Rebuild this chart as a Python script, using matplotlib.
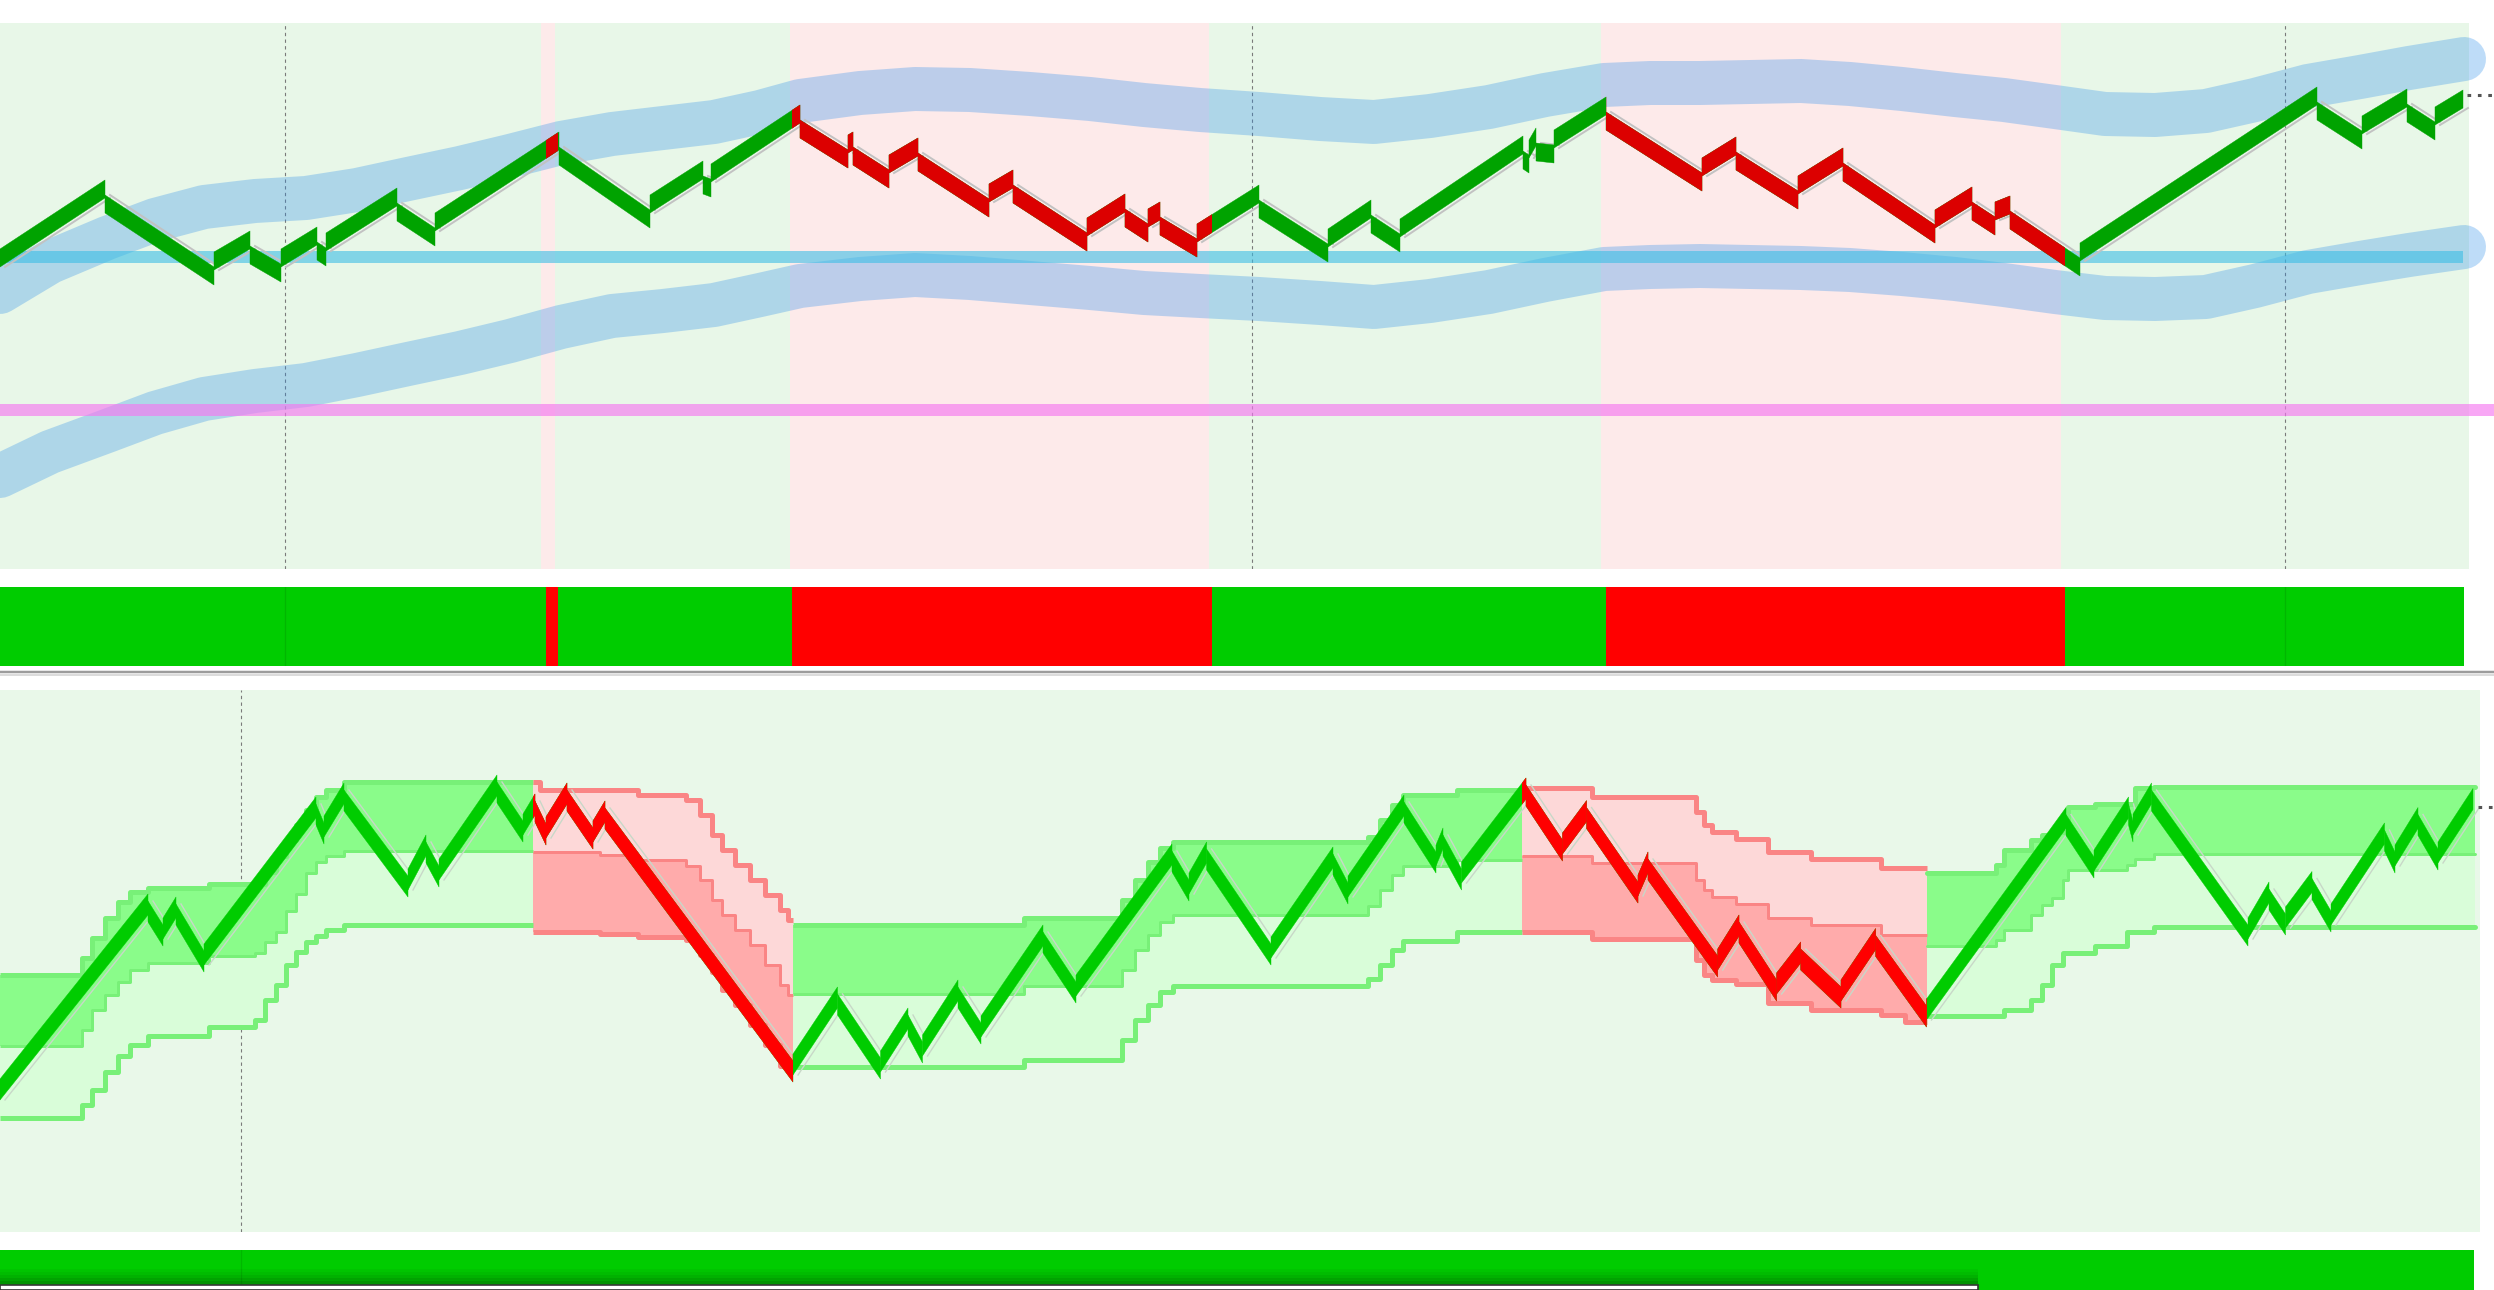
import matplotlib
matplotlib.use('Agg')
import matplotlib.pyplot as plt
from matplotlib.patches import Rectangle
from matplotlib.lines import Line2D
from matplotlib.collections import PolyCollection
import numpy as np

W, H, DPI = 2494, 1290, 100
PX = 72.0 / DPI  # points per pixel

# ---------------- top panel data (x = bar position, y = price scale, inverted) ----------
bg_edges = [0, 541, 555, 790, 1209, 1601, 2061, 2469]
bg_up = [True, False, True, False, True, False, True]

trend_edges = [0, 546, 558, 792, 1212, 1606, 2065, 2464]
trend_up = [True, False, True, False, True, False, True]

# top edge of the brick run at every reversal
renko_x = [0, 105, 214, 250, 281, 317, 326, 397, 435, 559, 650, 703, 711, 800, 848, 853,
           889, 918, 989, 1013, 1087, 1125, 1148, 1160, 1197, 1259, 1328, 1371, 1400, 1523,
           1529, 1536, 1554, 1606, 1702, 1736, 1798, 1843, 1935, 1972, 1995, 2010, 2080,
           2317, 2362, 2407, 2435, 2463]
renko_top = [249, 180, 267, 231, 264, 227, 248, 188, 228, 132, 210, 161, 179, 105, 150, 132,
             170, 138, 199, 170, 233, 194, 224, 202, 239, 185, 244, 200, 234, 136,
             155, 128, 145, 97, 173, 137, 191, 148, 225, 187, 217, 196, 258,
             87, 131, 89, 122, 90]
brick_h, brick_gap = 18, 15

band_x = [0, 50, 107, 155, 204, 255, 306, 357, 408, 460, 510, 561, 612, 663, 714, 760, 800,
          860, 915, 970, 1030, 1090, 1144, 1200, 1259, 1320, 1374, 1430, 1489, 1545, 1604,
          1650, 1700, 1750, 1801, 1850, 1902, 1955, 2004, 2055, 2105, 2155, 2206, 2255,
          2308, 2360, 2409, 2464]
band_upper = [292, 262, 238, 220, 207, 201, 198, 190, 179, 168, 156, 143, 134, 128, 122, 112,
              101, 93, 89, 90, 94, 99, 105, 110, 114, 119, 122, 116, 107, 95, 85,
              83, 83, 82, 81, 84, 89, 95, 100, 107, 114, 115, 111, 100,
              86, 77, 68, 59]
band_lower = [476, 452, 431, 413, 399, 391, 385, 375, 364, 353, 341, 327, 316, 311, 305, 295,
              286, 279, 275, 278, 283, 288, 293, 296, 299, 303, 307, 301, 292, 280, 269,
              267, 266, 267, 268, 270, 274, 279, 285, 292, 298, 299, 297, 286,
              272, 263, 255, 247]

level_blue, level_blue_end = 257, 2463
level_pink, level_pink_end = 410, 2494
last_top_price = 95
top_vlines = [285, 1252, 2285]

# ---------------- bottom panel data (extreme of each swing: apex of peaks, floor of troughs) ----
price_x = [0, 148, 163, 176, 204, 316, 324, 344, 408, 426, 439, 497, 523, 535, 546, 567, 593,
           605, 793, 837.5, 880.5, 908, 922.5, 958, 981, 1043, 1076, 1172, 1189, 1206.6, 1271,
           1333, 1348, 1404, 1436, 1443, 1461.5, 1526, 1562.5, 1586.6, 1638, 1648, 1717.7,
           1739, 1776.6, 1800.7, 1841, 1875.7, 1926.5, 2066, 2094, 2128.5, 2133, 2151.5, 2248,
           2269, 2285.5, 2312, 2331, 2384.5, 2395, 2418, 2438, 2473]
price_y = [1100, 894, 946, 897, 972, 797, 844, 783, 897, 835, 887, 775, 842, 794, 845, 783, 849,
           801, 1082, 987, 1079, 1008, 1063, 980, 1044, 925, 1003, 844, 901, 842, 965,
           847, 904, 795, 873, 828, 890, 778, 861, 800.6, 903, 852, 977,
           915, 1001, 942, 1008, 928.5, 1027, 807.5, 878, 797, 842, 783, 946,
           882, 935, 871.5, 932, 823, 873, 807.5, 870, 788.5]
brick_b, brick_gap_b = 21, 7
regime_edges = [0, 533, 793, 1522, 1926.5, 2475]
regime_up = [True, False, True, False, True]

ch_x = [0, 82, 92, 105, 118, 130, 148, 209, 255, 265, 276, 286, 296, 306, 316, 326, 344,
        533, 540, 600, 638, 686, 700, 712, 722, 735, 750, 765, 780, 788,
        793, 1024, 1122, 1135, 1148, 1160, 1173, 1271, 1368, 1380, 1392, 1403, 1457,
        1522, 1592, 1696, 1704, 1712, 1736, 1768, 1811, 1881, 1905,
        1926.5, 1996, 2004, 2031, 2042, 2052, 2063, 2068, 2095, 2127, 2135, 2154]
ch_up = [975, 958, 938, 918, 902, 892, 888, 884, 884, 872, 856, 840, 825, 810, 797, 790, 782,
         782, 790, 790, 795, 800, 815, 835, 850, 865, 880, 895, 910, 920,
         925, 918, 900, 880, 862, 848, 842, 842, 837, 820, 805, 795, 790,
         788, 797, 812, 825, 832, 839, 852, 859, 868, 868,
         873, 865, 850, 840, 835, 832, 832, 807, 804, 804, 788, 787]
ch_mid = [1046, 1030, 1010, 995, 982, 970, 963, 956, 953, 942, 932, 911, 894, 873, 862, 856, 851,
          852, 852, 855, 860, 866, 880, 900, 915, 930, 945, 965, 985, 995,
          994, 986, 970, 950, 935, 922, 915, 915, 906, 890, 875, 866, 860,
          856, 863, 880, 890, 897, 904, 918, 925, 935, 935,
          946, 940, 930, 915, 905, 898, 880, 870, 870, 865, 859, 854]
ch_lo = [1118, 1105, 1090, 1072, 1056, 1045, 1036, 1027, 1020, 1000, 985, 965, 952, 942, 936, 930, 925,
         932, 932, 934, 937, 940, 955, 972, 990, 1005, 1025, 1045, 1066, 1070,
         1067, 1060, 1040, 1020, 1005, 992, 986, 986, 979, 965, 950, 941, 932,
         932, 939, 960, 975, 980, 984, 1003, 1010, 1015, 1022,
         1016, 1016, 1010, 1000, 985, 965, 953, 953, 946, 932, 932, 927]
last_bottom_price = 807
bottom_vlines = [241]

# ---------------- colours ----------------
BG_G, BG_R = '#e8f7e8', '#fdeaea'
BG_B = '#e9f8e9'
TOP_G, TOP_R = '#00a300', '#dc0000'
STRIP_G, STRIP_R = '#00cc00', '#ff0000'
BAND_C = (40/255, 140/255, 235/255)

fig = plt.figure(figsize=(W / DPI, H / DPI), dpi=DPI)
fig.patch.set_facecolor('white')


def add_ax(y0, y1):
    ax = fig.add_axes([0, 1 - y1 / H, 1, (y1 - y0) / H])
    ax.set_xlim(0, W)
    ax.set_ylim(y1, y0)
    ax.axis('off')
    return ax


def clip_rect(ax, a, b):
    return Rectangle((a, -1e5), b - a, 2e5, transform=ax.transData)


def brick_runs(xs, tops, T, gap):
    """One parallelogram per swing; a reversal restarts a little past the last brick."""
    polys, segs = [], []
    for i in range(len(xs) - 1):
        up = tops[i + 1] < tops[i]
        if i == 0:
            s = tops[0]
        else:
            s = tops[i] - gap if up else tops[i] + gap
        e = tops[i + 1]
        polys.append([(xs[i], s), (xs[i + 1], e), (xs[i + 1], e + T), (xs[i], s + T)])
        if up:
            segs.append([(xs[i] + 5, s + T), (xs[i + 1] + 5, e + T)])
        else:
            segs.append([(xs[i] + 5, s), (xs[i + 1] + 5, e)])
    return polys, segs


def draw_runs(ax, polys, c_up, c_dn, edges, ups, z):
    ax.add_collection(PolyCollection(polys, facecolors=c_up, edgecolors=c_up, lw=0.3, zorder=z))
    for i in range(len(edges) - 1):
        if not ups[i]:
            pc = PolyCollection(polys, facecolors=c_dn, edgecolors=c_dn, lw=0.3, zorder=z + 1)
            ax.add_collection(pc)
            pc.set_clip_path(clip_rect(ax, edges[i], edges[i + 1]))


def draw_shadow(ax, segs, color, lw, z):
    for sg in segs:
        ax.plot([sg[0][0], sg[1][0]], [sg[0][1], sg[1][1]], color=color, lw=lw, zorder=z)


# ================= TOP PANEL =================
ax = add_ax(23, 569)
for i in range(len(bg_edges) - 1):
    ax.axvspan(bg_edges[i], bg_edges[i + 1], color=BG_G if bg_up[i] else BG_R, lw=0, zorder=0)
for xv in top_vlines:
    ax.axvline(xv, color='#7a7a7a', lw=0.8, ls=(0, (3, 3)), zorder=1)

for yb in (band_upper, band_lower):
    ax.plot(band_x, yb, color=BAND_C, alpha=0.30, lw=44 * PX,
            solid_capstyle='round', solid_joinstyle='round', zorder=2)

ax.plot([0, level_blue_end], [level_blue, level_blue], color=(60/255, 190/255, 230/255),
        alpha=0.6, lw=12 * PX, solid_capstyle='butt', zorder=3)
ax.plot([0, level_pink_end], [level_pink, level_pink], color=(245/255, 120/255, 240/255),
        alpha=0.65, lw=12 * PX, solid_capstyle='butt', zorder=3)

polys_t, segs_t = brick_runs(renko_x, renko_top, brick_h, brick_gap)
draw_shadow(ax, segs_t, '#c2c2c2', 1.4, 4)
draw_runs(ax, polys_t, TOP_G, TOP_R, trend_edges, trend_up, 5)
ax.plot([renko_x[-1] + 4, W], [last_top_price, last_top_price], color='#555555', lw=2.2,
        ls=(0, (1.2, 2.2)), zorder=7)

# ================= TREND STRIP =================
axs = add_ax(587, 666)
for i in range(len(trend_edges) - 1):
    axs.axvspan(trend_edges[i], trend_edges[i + 1], color=STRIP_G if trend_up[i] else STRIP_R,
                lw=0, zorder=0)
for xv in (top_vlines[0], top_vlines[2]):
    axs.axvline(xv, color='black', alpha=0.10, lw=1, zorder=1)

fig.add_artist(Line2D([0, 1], [1 - 672 / H] * 2, transform=fig.transFigure,
                      color='#9c9c9c', lw=2.5 * PX))
fig.add_artist(Line2D([0, 1], [1 - 674.5 / H] * 2, transform=fig.transFigure,
                      color='#dcdcdc', lw=2 * PX))

# ================= BOTTOM PANEL =================
axb = add_ax(690, 1232)
axb.axvspan(0, 2480, color=BG_B, lw=0, zorder=0)
for xv in bottom_vlines:
    axb.axvline(xv, color='#7a7a7a', lw=0.8, ls=(0, (3, 3)), zorder=1)

cx = np.array(ch_x, float)
cu = np.array(ch_up, float)
cm = np.array(ch_mid, float)
cl = np.array(ch_lo, float)
for i in range(len(regime_edges) - 1):
    a, b = regime_edges[i], regime_edges[i + 1]
    m = (cx >= a) & (cx < b)
    xs = np.append(cx[m], b)
    us = np.append(cu[m], cu[m][-1])
    ms = np.append(cm[m], cm[m][-1])
    ls_ = np.append(cl[m], cl[m][-1])
    if regime_up[i]:
        c_top, c_bot, c_line = '#8afc8a', '#d9fdd9', '#78f078'
    else:
        c_top, c_bot, c_line = '#fdd8d8', '#ffabab', '#fa8585'
    axb.fill_between(xs, us, ms, step='post', color=c_top, lw=0, zorder=2)
    axb.fill_between(xs, ms, ls_, step='post', color=c_bot, lw=0, zorder=2)
    cap = 'round' if i == len(regime_edges) - 2 else 'butt'
    for ys, lw in ((us, 5), (ms, 3), (ls_, 5)):
        axb.plot(xs, ys, drawstyle='steps-post', color=c_line, lw=lw * PX,
                 solid_capstyle=cap, zorder=3)

py = np.array(price_y, float)
n = len(py)
ptop = np.empty(n)
for i in range(n):
    trough = (py[i + 1] < py[i]) if i < n - 1 else (py[i - 1] < py[i])
    ptop[i] = py[i] - brick_b if trough else py[i]
polys_b, segs_b = brick_runs(price_x, ptop, brick_b, brick_gap_b)
draw_shadow(axb, segs_b, '#c8d8c8', 1.0, 4)
draw_runs(axb, polys_b, STRIP_G, STRIP_R, regime_edges, regime_up, 5)
axb.plot([price_x[-1] + 5, W], [last_bottom_price, last_bottom_price], color='#555555', lw=2.2,
         ls=(0, (1.2, 2.2)), zorder=7)

# ================= BOTTOM STRIP =================
axs2 = add_ax(1250, 1290)
axs2.axvspan(0, 2474, color=STRIP_G, lw=0, zorder=0)
axs2.axvline(bottom_vlines[0], color='black', alpha=0.10, lw=1, zorder=1)
for k, al in enumerate([0.04, 0.08, 0.13, 0.2, 0.28]):
    axs2.add_patch(Rectangle((0, 1284 - (5 - k) * 3), 1978, 3, color='black', alpha=al, lw=0,
                             zorder=2))
fig.add_artist(Rectangle((0, 0), 1978 / W, 5.5 / H, transform=fig.transFigure,
                         fc='white', ec='#333333', lw=1.2))

fig.savefig('out.png', dpi=DPI, facecolor='white')
